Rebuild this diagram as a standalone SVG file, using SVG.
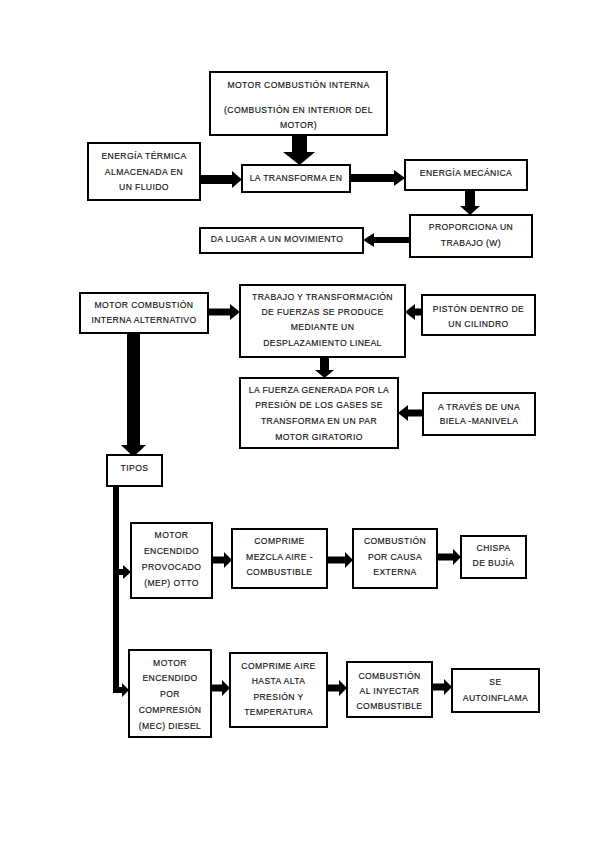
<svg xmlns="http://www.w3.org/2000/svg" width="599" height="848" viewBox="0 0 599 848">
<style>
.box{fill:#fff;stroke:#000;stroke-width:2}
.t{font-family:"Liberation Sans",Arial,sans-serif;font-size:8.6px;letter-spacing:0.4px;fill:#111;text-anchor:middle;dominant-baseline:central;stroke:#111;stroke-width:0.15}
.a{fill:#000}
</style>
<rect width="599" height="848" fill="#fff"/>
<g id="connectors">
<polygon class="a" points="292,135 307,135 307,152 315,152 299.5,165 283,152 292,152"/>
<polygon class="a" points="200,175 232,175 232,171 242,179.5 232,188 232,184 200,184"/>
<polygon class="a" points="350,174 394,174 394,170 405,178 394,186 394,182 350,182"/>
<polygon class="a" points="465,190 475,190 475,206 480,206 470,215 460,206 465,206"/>
<polygon class="a" points="410,237 374,237 374,233 363,240 374,247 374,243 410,243"/>
<polygon class="a" points="208,308.5 230,308.5 230,304 240,312 230,320 230,315.5 208,315.5"/>
<polygon class="a" points="422,308.5 415,308.5 415,304 405,312 415,320 415,315.5 422,315.5"/>
<polygon class="a" points="320,357 329,357 329,370 334,370 324.5,378 315,370 320,370"/>
<polygon class="a" points="423,409.5 408,409.5 408,405 398,413 408,421 408,416.5 423,416.5"/>
<polygon class="a" points="127,333 140,333 140,445 146,445 133.5,457 121,445 127,445"/>
<polygon class="a" points="113,486 119,486 119,569 123,569 123,565 131,572 123,579 123,575 119,575 119,687 122,687 122,683 129,690 122,697 122,693 113,693"/>
<polygon class="a" points="212,556.5 224,556.5 224,552 232,560 224,568 224,563.5 212,563.5"/>
<polygon class="a" points="327,556.5 345,556.5 345,552 353,560 345,568 345,563.5 327,563.5"/>
<polygon class="a" points="437,553.5 453,553.5 453,549 461,557 453,565 453,560.5 437,560.5"/>
<polygon class="a" points="211,684.5 222,684.5 222,680 230,688 222,696 222,691.5 211,691.5"/>
<polygon class="a" points="327,684.5 339,684.5 339,680 347,688 339,696 339,691.5 327,691.5"/>
<polygon class="a" points="432,683.5 444,683.5 444,679 452,687 444,695 444,690.5 432,690.5"/>
</g>
<g id="n-motor-ci">
<rect class="box" x="210" y="72" width="177" height="63"/>
<text class="t" x="298.5" y="85">MOTOR COMBUSTIÓN INTERNA</text>
<text class="t" x="298.5" y="110">(COMBUSTIÓN EN INTERIOR DEL</text>
<text class="t" x="298.5" y="125">MOTOR)</text>
</g>
<g id="n-energia-termica">
<rect class="box" x="88" y="143" width="112" height="57"/>
<text class="t" x="144" y="156">ENERGÍA TÉRMICA</text>
<text class="t" x="144" y="172">ALMACENADA EN</text>
<text class="t" x="144" y="187">UN FLUIDO</text>
</g>
<g id="n-transforma">
<rect class="box" x="242" y="165" width="108" height="27"/>
<text class="t" x="296" y="177.5">LA TRANSFORMA EN</text>
</g>
<g id="n-energia-mecanica">
<rect class="box" x="405" y="160" width="122" height="30"/>
<text class="t" x="466" y="173">ENERGÍA MECÁNICA</text>
</g>
<g id="n-proporciona">
<rect class="box" x="410" y="215" width="122" height="42"/>
<text class="t" x="471" y="227">PROPORCIONA UN</text>
<text class="t" x="471" y="243">TRABAJO (W)</text>
</g>
<g id="n-da-lugar">
<rect class="box" x="200" y="228" width="163" height="25"/>
<text class="t" x="277" y="239">DA LUGAR A UN MOVIMIENTO</text>
</g>
<g id="n-alternativo">
<rect class="box" x="80" y="293" width="128" height="40"/>
<text class="t" x="144" y="305">MOTOR COMBUSTIÓN</text>
<text class="t" x="144" y="320">INTERNA ALTERNATIVO</text>
</g>
<g id="n-trabajo">
<rect class="box" x="240" y="285" width="165" height="72"/>
<text class="t" x="322.5" y="297">TRABAJO Y TRANSFORMACIÓN</text>
<text class="t" x="322.5" y="312">DE FUERZAS SE PRODUCE</text>
<text class="t" x="322.5" y="327">MEDIANTE UN</text>
<text class="t" x="322.5" y="343">DESPLAZAMIENTO LINEAL</text>
</g>
<g id="n-piston">
<rect class="box" x="422" y="295" width="113" height="40"/>
<text class="t" x="478.5" y="309">PISTÓN DENTRO DE</text>
<text class="t" x="478.5" y="324">UN CILINDRO</text>
</g>
<g id="n-fuerza">
<rect class="box" x="240" y="378" width="158" height="70"/>
<text class="t" x="319" y="390">LA FUERZA GENERADA POR LA</text>
<text class="t" x="319" y="405">PRESIÓN DE LOS GASES SE</text>
<text class="t" x="319" y="421">TRANSFORMA EN UN PAR</text>
<text class="t" x="319" y="437">MOTOR GIRATORIO</text>
</g>
<g id="n-biela">
<rect class="box" x="423" y="393" width="112" height="42"/>
<text class="t" x="479" y="407">A TRAVÉS DE UNA</text>
<text class="t" x="479" y="421">BIELA -MANIVELA</text>
</g>
<g id="n-tipos">
<rect class="box" x="107" y="455" width="55" height="31"/>
<text class="t" x="134.5" y="468">TIPOS</text>
</g>
<g id="n-mep">
<rect class="box" x="131" y="523" width="81" height="75"/>
<text class="t" x="171.5" y="535">MOTOR</text>
<text class="t" x="171.5" y="551">ENCENDIDO</text>
<text class="t" x="171.5" y="567">PROVOCADO</text>
<text class="t" x="171.5" y="583">(MEP) OTTO</text>
</g>
<g id="n-comprime-mezcla">
<rect class="box" x="232" y="529" width="95" height="59"/>
<text class="t" x="279.5" y="541">COMPRIME</text>
<text class="t" x="279.5" y="557">MEZCLA AIRE -</text>
<text class="t" x="279.5" y="572">COMBUSTIBLE</text>
</g>
<g id="n-combustion-externa">
<rect class="box" x="353" y="529" width="84" height="59"/>
<text class="t" x="395" y="541">COMBUSTIÓN</text>
<text class="t" x="395" y="557">POR CAUSA</text>
<text class="t" x="395" y="572">EXTERNA</text>
</g>
<g id="n-chispa">
<rect class="box" x="461" y="536" width="65" height="42"/>
<text class="t" x="493.5" y="548">CHISPA</text>
<text class="t" x="493.5" y="563">DE BUJÍA</text>
</g>
<g id="n-mec">
<rect class="box" x="129" y="650" width="82" height="87"/>
<text class="t" x="170" y="663">MOTOR</text>
<text class="t" x="170" y="678">ENCENDIDO</text>
<text class="t" x="170" y="694">POR</text>
<text class="t" x="170" y="710">COMPRESIÓN</text>
<text class="t" x="170" y="726">(MEC) DIESEL</text>
</g>
<g id="n-comprime-aire">
<rect class="box" x="230" y="653" width="97" height="74"/>
<text class="t" x="278.5" y="666">COMPRIME AIRE</text>
<text class="t" x="278.5" y="681">HASTA ALTA</text>
<text class="t" x="278.5" y="697">PRESIÓN Y</text>
<text class="t" x="278.5" y="712">TEMPERATURA</text>
</g>
<g id="n-combustion-inyectar">
<rect class="box" x="347" y="662" width="85" height="55"/>
<text class="t" x="389.5" y="676">COMBUSTIÓN</text>
<text class="t" x="389.5" y="691">AL INYECTAR</text>
<text class="t" x="389.5" y="706">COMBUSTIBLE</text>
</g>
<g id="n-autoinflama">
<rect class="box" x="452" y="669" width="87" height="43"/>
<text class="t" x="495.5" y="682">SE</text>
<text class="t" x="495.5" y="698">AUTOINFLAMA</text>
</g>
</svg>
